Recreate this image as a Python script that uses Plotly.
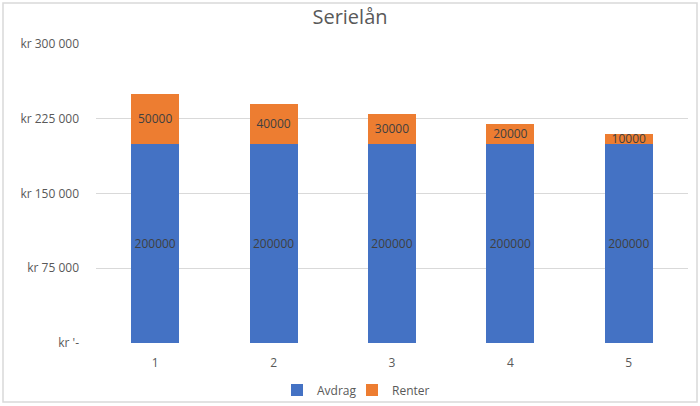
import plotly.graph_objects as go

categories = ["1", "2", "3", "4", "5"]
avdrag = [200000, 200000, 200000, 200000, 200000]
renter = [50000, 40000, 30000, 20000, 10000]
tick_vals = [0, 75000, 150000, 225000, 300000]
tick_text = ["kr '-", "kr 75 000", "kr 150 000", "kr 225 000", "kr 300 000"]

font_family = "Open Sans, Liberation Sans, sans-serif"
text_color = "#595959"

fig = go.Figure()
fig.add_trace(go.Bar(
    x=categories, y=avdrag, name="Avdrag", legend="legend",
    marker=dict(color="#4472C4", line=dict(width=0)),
    text=[str(v) for v in avdrag], textposition="inside", insidetextanchor="middle",
    textfont=dict(color="#404040", size=12, family=font_family),
))
fig.add_trace(go.Bar(
    x=categories, y=renter, name="Renter", legend="legend2",
    marker=dict(color="#ED7D31", line=dict(width=0)),
    text=[str(v) for v in renter], textposition="inside", insidetextanchor="middle",
    textfont=dict(color="#404040", size=12, family=font_family),
))

L, R, T, B = 96, 12, 43, 63
W, H = 700, 406
pw, ph = W - L - R, H - T - B
ymax = 300000 * ph / (ph - 1)

leg_common = dict(orientation="h", xanchor="left", xref="container", yref="container",
                  y=1 - 390 / H, yanchor="middle",
                  font=dict(size=12, color=text_color), itemwidth=30,
                  bgcolor="rgba(0,0,0,0)")

fig.update_layout(
    width=W, height=H,
    barmode="stack", bargap=0.595,
    margin=dict(l=L, r=R, t=T, b=B, autoexpand=False),
    paper_bgcolor="white", plot_bgcolor="white",
    font=dict(family=font_family, color=text_color, size=11),
    title=dict(text="Serielån", x=0.5, xanchor="center", xref="container",
               y=1 - 17 / H, yanchor="middle", yref="container",
               font=dict(size=20, color=text_color, family=font_family)),
    showlegend=True,
    legend=dict(x=277 / W, **leg_common),
    legend2=dict(x=352 / W, **leg_common),
    uniformtext=dict(mode="show", minsize=12),
)
fig.update_xaxes(showgrid=False, showline=False, ticks="", tickfont=dict(size=12, color=text_color),
                 ticklabelstandoff=11)
fig.update_yaxes(range=[0, ymax], tickvals=tick_vals, ticktext=tick_text,
                 showgrid=True, gridcolor="#d9d9d9", gridwidth=1, zeroline=False,
                 showline=False, ticks="", ticklabelstandoff=16,
                 tickfont=dict(size=12, color=text_color))

fig.add_shape(type="rect", xref="paper", yref="paper",
              x0=(3 - L) / pw, x1=(697 - L) / pw,
              y0=(T + ph - 402) / ph, y1=(T + ph - 3) / ph,
              line=dict(color="#d9d9d9", width=1.5), fillcolor="rgba(0,0,0,0)", layer="below")

fig.write_html("out.html", config={"displayModeBar": False},
               post_script="document.body.style.margin='0';document.body.style.padding='0';")
